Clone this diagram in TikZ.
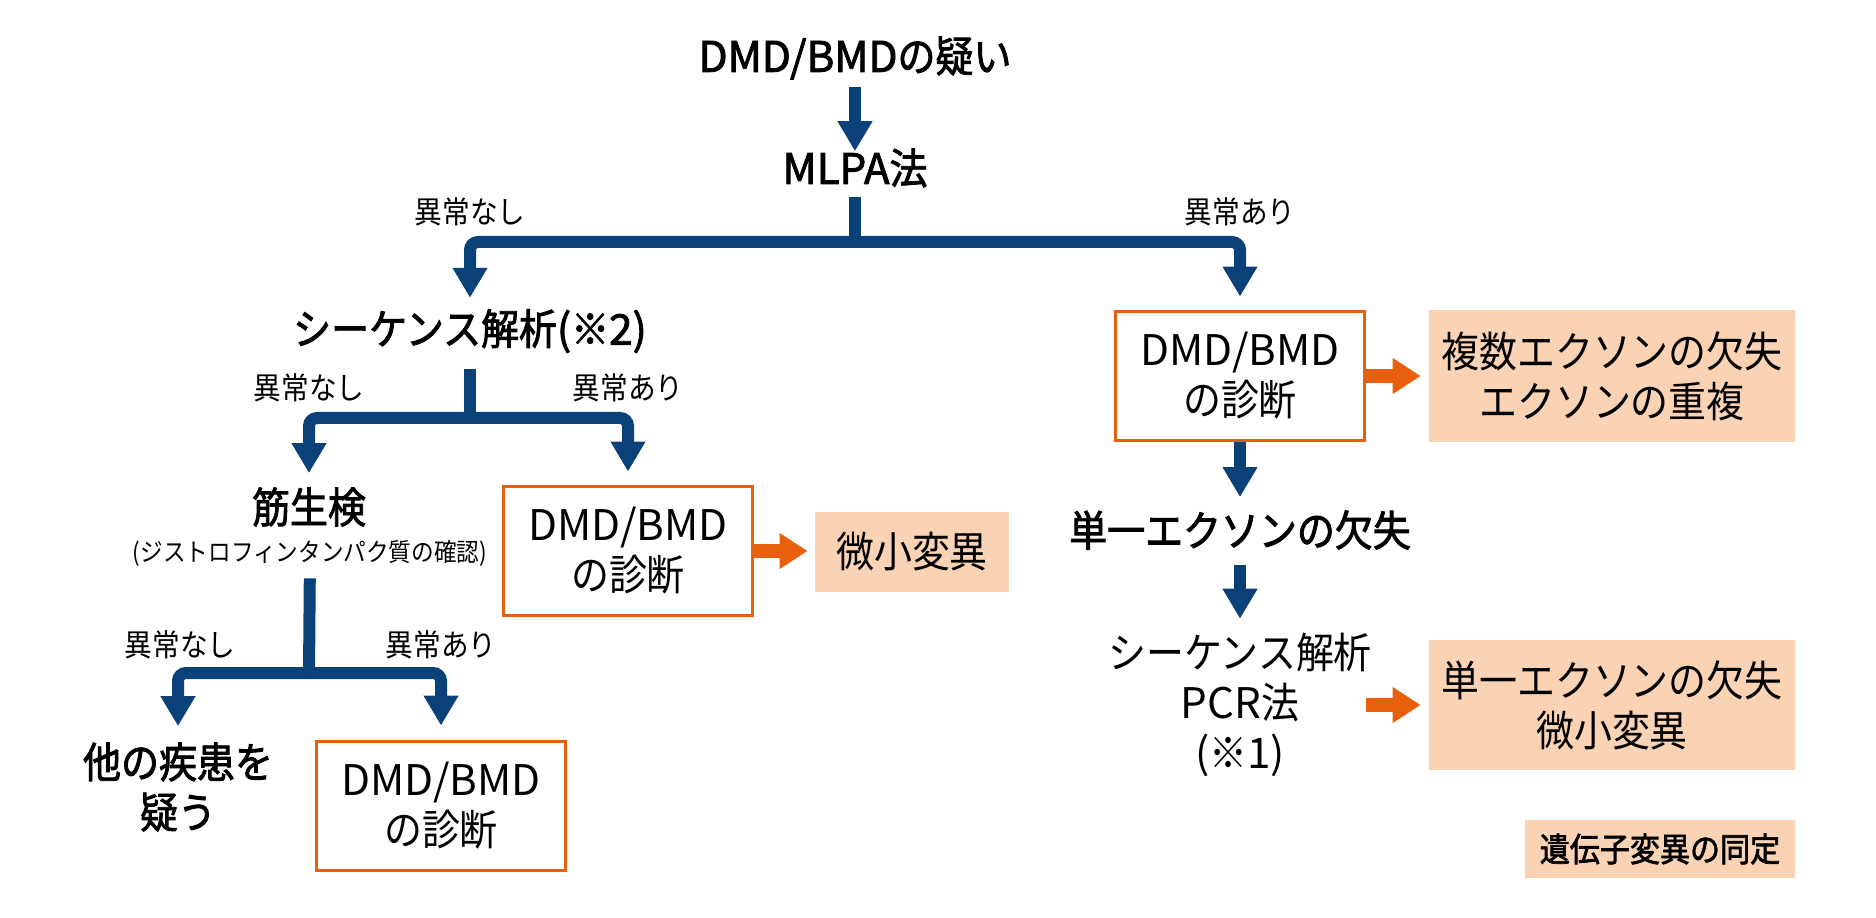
\documentclass[tikz,border=0pt]{standalone}
\usepackage{fontspec}
\setmainfont{Noto Sans CJK JP}[FakeStretch=0.9, BoldFont={Noto Sans CJK JP}, BoldFeatures={FakeBold=2}]
\newfontfamily\latf{Noto Sans CJK JP}[BoldFont={Noto Sans CJK JP}, BoldFeatures={FakeBold=2}]
\usepackage{tikz}
\usetikzlibrary{
    arrows.meta,
    calc,
    positioning
}
\definecolor{flowblue}{HTML}{0B4179}
\definecolor{floworange}{HTML}{E8600E}
\definecolor{flowpeach}{HTML}{FAD3B4}
\newcommand\ltn[1]{{\latf #1}}
\newcommand\stpfont{\bfseries\fontsize{24}{28.5}\selectfont}
\newcommand\boxfont{\fontsize{24}{28.5}\selectfont}
\newcommand\lblfont{\fontsize{17.5}{20}\selectfont}
\newcommand\subfont{\fontsize{14.3}{17}\selectfont}
\newcommand\legfont{\bfseries\fontsize{19}{23}\selectfont}
\tikzset{blu/.style={draw=flowblue, line width=0.24cm}}
\tikzset{blua/.style={blu, -{Triangle[width=0.66cm, length=0.6cm]}}}
\tikzset{bra/.style={blua, rounded corners=0.16cm, to path={-| (\tikztotarget)}}}
\tikzset{ora/.style={draw=floworange, line width=0.28cm, -{Triangle[width=0.68cm, length=0.56cm]}}}
\tikzset{stp/.style={inner sep=0, align=center, font=\stpfont}}
\tikzset{stq/.style={inner sep=0, align=center, font=\boxfont}}
\tikzset{lbl/.style={inner sep=0, font=\lblfont}}
\tikzset{dgn/.style={draw=floworange, line width=0.06cm, inner sep=0, minimum width=4.98cm, minimum height=2.58cm, align=center, font=\boxfont}}
\tikzset{res/.style={fill=flowpeach, inner sep=0, minimum width=7.34cm, minimum height=2.64cm, align=center, font=\boxfont}}

\begin{document}
\begin{tikzpicture}[x=0.02cm, y=-0.02cm]
    \useasboundingbox (0, 0) rectangle (1876, 918);

    % main column
    \node[stp] (sus) at (855, 58) {\ltn{DMD/BMD}の疑い};
    \node[stp] (mlpa) at (855, 168) {\ltn{MLPA}法};
    \coordinate (j1) at (855, 242);
    \node[lbl] (n1) at (470, 212) {異常なし};
    \node[lbl] (a1) at (1240, 212) {異常あり};

    % left branch
    \node[stp] (seq2) at (470, 331) {シーケンス解析\ltn{(}※\ltn{2)}};
    \coordinate (j2) at (470, 418);
    \node[lbl] (n2) at (309, 388) {異常なし};
    \node[lbl] (a2) at (628, 388) {異常あり};
    \node[stp] (kin) at (309, 507) {筋生検};
    \node[inner sep=0, font=\subfont] (kinsub) at (310, 553) {(ジストロフィンタンパク質の確認)};
    \node[dgn] (dg2) at (628, 551) {\ltn{DMD/BMD}\\の診断};
    \node[res, minimum width=3.9cm, minimum height=1.6cm] (micro) at (912, 552) {微小変異};
    \coordinate (j3) at (309, 673);
    \node[lbl] (n3) at (180, 645) {異常なし};
    \node[lbl] (a3) at (441, 645) {異常あり};
    \node[stp] (oth) at (178, 787) {他の疾患を\\疑う};
    \node[dgn] (dg3) at (441, 806) {\ltn{DMD/BMD}\\の診断};

    % right branch
    \node[dgn] (dg1) at (1240, 376) {\ltn{DMD/BMD}\\の診断};
    \node[res] (multi) at (1612, 376) {複数エクソンの欠失\\エクソンの重複};
    \node[stp] (single) at (1240, 530) {単一エクソンの欠失};
    \node[stq] (pcr) at (1240, 705) {シーケンス解析\\\ltn{PCR}法\\\ltn{(}※\ltn{1)}};
    \node[res, minimum height=2.6cm] (sngl) at (1612, 705) {単一エクソンの欠失\\微小変異};
    \node[res, minimum width=5.42cm, minimum height=1.16cm, font=\legfont] (leg) at (1660, 849) {遺伝子変異の同定};

    \draw
    (sus) edge[blua, shorten <=0.14cm, shorten >=-0.06cm] (mlpa)
    (mlpa) edge[blu, shorten <=0.18cm] (j1)
    (j1) edge[bra, shorten >=0.22cm] (seq2)
    (j1) edge[bra, shorten >=0.27cm] (dg1)
    (seq2) edge[blu, shorten <=0.32cm] (j2)
    (j2) edge[bra, shorten >=0.28cm] (kin)
    (j2) edge[bra, shorten >=0.27cm] (dg2)
    (kinsub) edge[blu, shorten <=0.24cm] (j3)
    (j3) edge[bra, shorten >=0.32cm] (oth)
    (j3) edge[bra, shorten >=0.29cm] (dg3)
    (dg1) edge[blua, shorten >=0.26cm] (single)
    (single) edge[blua, shorten <=0.3cm, shorten >=0.28cm] (pcr);

    \draw
    (dg1.east) edge[ora, shorten >=0.15cm] (multi.west)
    (dg2.east) edge[ora, shorten >=0.13cm] (dg2.east -| micro.west)
    (dg1.east |- sngl.west) edge[ora, shorten >=0.15cm] (sngl.west);
\end{tikzpicture}
\end{document}
